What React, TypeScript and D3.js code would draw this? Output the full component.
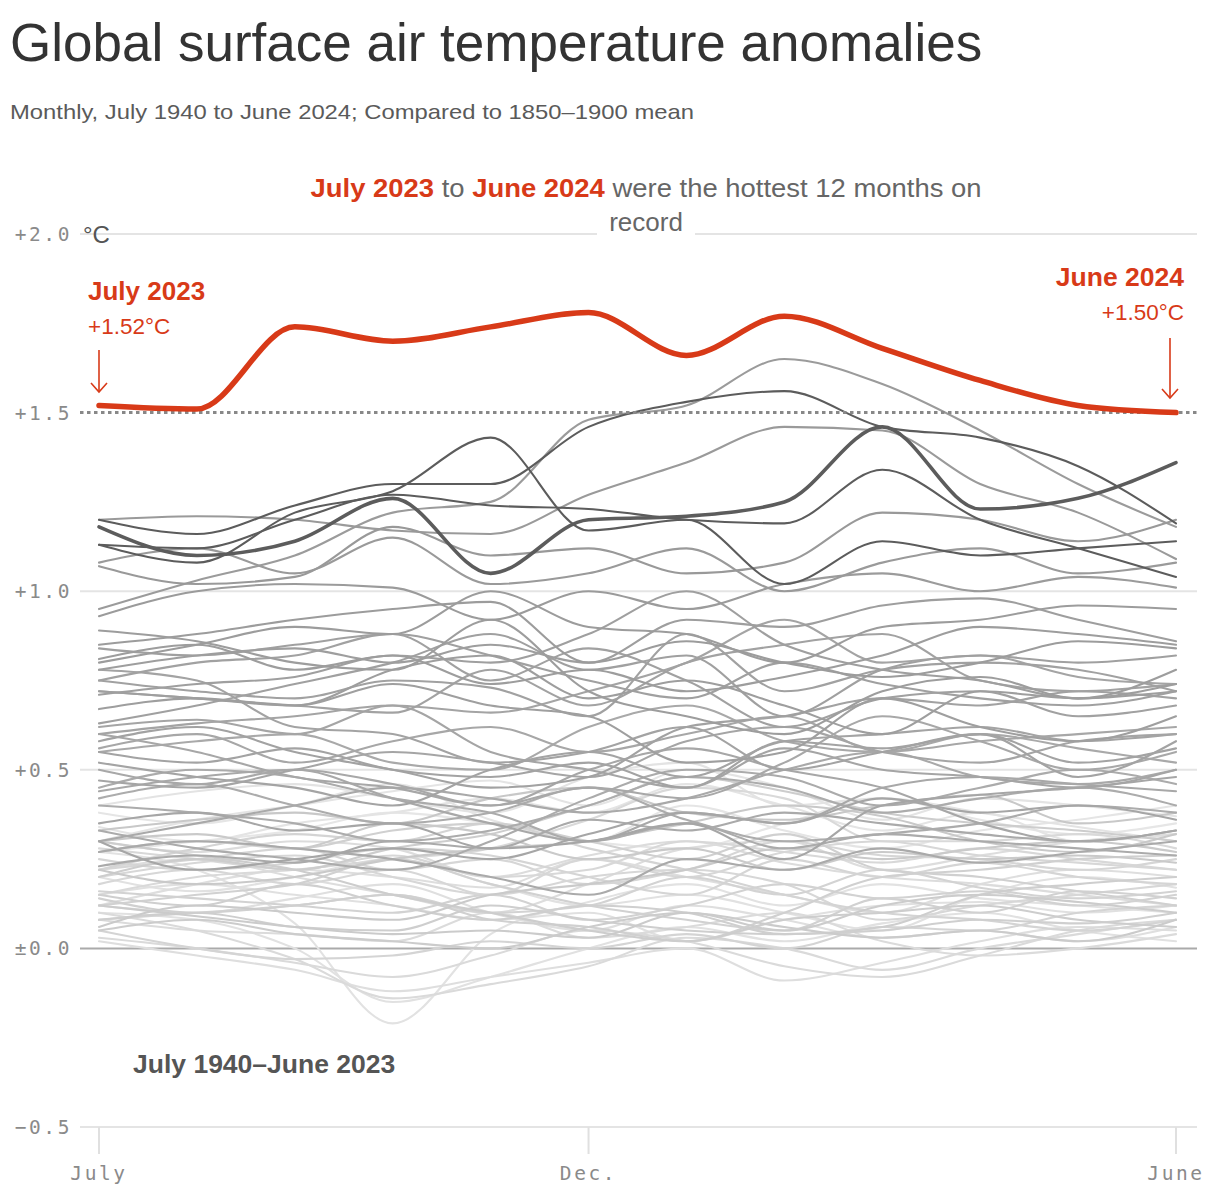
import React from "react";
import * as d3 from "d3";

// Month labels (July → June)
const months = ["Jul", "Aug", "Sep", "Oct", "Nov", "Dec", "Jan", "Feb", "Mar", "Apr", "May", "Jun"];
const xTicks = [
  { i: 0, label: "July" },
  { i: 5, label: "Dec." },
  { i: 11, label: "June" },
];
const yTicks = [
  { v: 2.0, label: "+2.0" },
  { v: 1.5, label: "+1.5" },
  { v: 1.0, label: "+1.0" },
  { v: 0.5, label: "+0.5" },
  { v: 0.0, label: "±0.0" },
  { v: -0.5, label: "−0.5" },
];

// Monthly anomalies (°C vs 1850–1900), each row = July..June season, by starting year
const seasons1940s = [
  [0.27, 0.30, 0.33, 0.38, 0.35, 0.30, 0.28, 0.35, 0.42, 0.36, 0.32, 0.35],
  [0.38, 0.35, 0.40, 0.46, 0.36, 0.30, 0.40, 0.33, 0.28, 0.33, 0.36, 0.40],
  [0.34, 0.30, 0.35, 0.38, 0.42, 0.38, 0.46, 0.40, 0.33, 0.38, 0.30, 0.32],
  [0.30, 0.36, 0.40, 0.44, 0.47, 0.40, 0.50, 0.45, 0.36, 0.42, 0.40, 0.37],
  [0.40, 0.44, 0.46, 0.42, 0.38, 0.48, 0.52, 0.40, 0.42, 0.38, 0.34, 0.30],
  [0.27, 0.22, 0.07, -0.21, 0.04, 0.13, 0.18, 0.12, 0.18, 0.14, 0.12, 0.10],
  [0.10, 0.08, 0.0, -0.15, -0.08, 0.0, 0.06, 0.02, 0.07, 0.10, 0.05, 0.02],
  [0.20, 0.16, 0.20, 0.25, 0.18, 0.12, 0.15, 0.10, 0.05, 0.15, 0.20, 0.17],
  [0.15, 0.18, 0.15, 0.12, 0.08, 0.10, 0.02, 0.08, 0.12, 0.13, 0.10, 0.12],
  [0.12, 0.10, 0.14, 0.18, 0.10, 0.05, 0.12, 0.08, 0.03, 0.05, 0.02, 0.06],
];
const seasons1950s = [
  [0.02, -0.02, -0.06, -0.12, -0.08, -0.04, 0.0, -0.09, -0.04, 0.02, 0.06, 0.05],
  [0.12, 0.18, 0.22, 0.20, 0.17, 0.25, 0.20, 0.15, 0.10, 0.18, 0.22, 0.20],
  [0.22, 0.25, 0.20, 0.15, 0.10, 0.18, 0.28, 0.30, 0.22, 0.26, 0.30, 0.32],
  [0.30, 0.27, 0.30, 0.28, 0.20, 0.26, 0.30, 0.24, 0.20, 0.18, 0.15, 0.12],
  [0.08, 0.05, 0.04, 0.02, 0.10, 0.03, 0.06, 0.10, 0.02, -0.02, 0.0, 0.04],
  [0.10, 0.05, -0.03, -0.14, -0.10, -0.05, 0.03, 0.0, -0.06, 0.0, 0.04, 0.08],
  [0.03, 0.0, -0.04, -0.08, -0.02, 0.05, 0.02, -0.05, -0.08, -0.02, 0.05, 0.08],
  [0.15, 0.20, 0.22, 0.25, 0.28, 0.36, 0.45, 0.42, 0.30, 0.30, 0.32, 0.28],
  [0.28, 0.25, 0.22, 0.26, 0.20, 0.22, 0.30, 0.27, 0.24, 0.28, 0.25, 0.22],
  [0.20, 0.24, 0.26, 0.20, 0.15, 0.20, 0.22, 0.18, 0.08, 0.12, 0.15, 0.18],
];
const seasons1960s = [
  [0.18, 0.22, 0.18, 0.22, 0.15, 0.25, 0.20, 0.27, 0.30, 0.26, 0.24, 0.22],
  [0.22, 0.25, 0.28, 0.22, 0.25, 0.18, 0.22, 0.30, 0.26, 0.25, 0.22, 0.25],
  [0.25, 0.22, 0.24, 0.28, 0.26, 0.20, 0.15, 0.25, 0.20, 0.24, 0.20, 0.18],
  [0.22, 0.28, 0.32, 0.30, 0.35, 0.28, 0.22, 0.15, 0.10, 0.08, 0.05, 0.08],
  [0.05, 0.0, -0.03, -0.02, 0.02, 0.0, 0.04, 0.0, 0.06, 0.05, 0.10, 0.12],
  [0.08, 0.10, 0.12, 0.15, 0.10, 0.12, 0.20, 0.15, 0.22, 0.17, 0.14, 0.16],
  [0.16, 0.14, 0.12, 0.10, 0.15, 0.08, 0.12, 0.18, 0.14, 0.16, 0.12, 0.15],
  [0.12, 0.15, 0.18, 0.25, 0.18, 0.12, 0.08, 0.05, 0.14, 0.10, 0.16, 0.14],
  [0.14, 0.10, 0.12, 0.15, 0.08, 0.06, 0.02, 0.10, 0.20, 0.22, 0.25, 0.26],
  [0.27, 0.30, 0.28, 0.33, 0.35, 0.30, 0.25, 0.32, 0.22, 0.20, 0.16, 0.12],
];
const seasons1970s = [
  [0.15, 0.12, 0.18, 0.12, 0.08, 0.12, 0.10, 0.04, 0.05, 0.08, 0.07, 0.10],
  [0.08, 0.10, 0.06, 0.05, 0.12, 0.08, 0.05, 0.04, 0.06, 0.15, 0.18, 0.20],
  [0.20, 0.25, 0.22, 0.28, 0.32, 0.40, 0.48, 0.44, 0.38, 0.35, 0.33, 0.30],
  [0.30, 0.26, 0.22, 0.15, 0.10, 0.05, 0.02, 0.08, 0.10, 0.12, 0.08, 0.06],
  [0.05, 0.08, 0.04, 0.02, 0.0, 0.06, 0.10, 0.05, 0.12, 0.15, 0.13, 0.10],
  [0.12, 0.09, 0.06, 0.04, 0.05, 0.03, 0.10, 0.06, 0.03, 0.05, 0.02, 0.08],
  [0.06, 0.12, 0.10, 0.08, 0.15, 0.18, 0.22, 0.28, 0.25, 0.28, 0.30, 0.27],
  [0.30, 0.32, 0.28, 0.35, 0.32, 0.25, 0.28, 0.22, 0.27, 0.25, 0.26, 0.24],
  [0.22, 0.18, 0.20, 0.25, 0.28, 0.30, 0.35, 0.40, 0.37, 0.30, 0.27, 0.32],
  [0.33, 0.36, 0.38, 0.35, 0.42, 0.45, 0.38, 0.36, 0.40, 0.43, 0.35, 0.38],
];
const seasons1980s = [
  [0.40, 0.38, 0.35, 0.30, 0.33, 0.40, 0.48, 0.45, 0.38, 0.42, 0.45, 0.40],
  [0.42, 0.46, 0.40, 0.35, 0.38, 0.45, 0.36, 0.30, 0.32, 0.35, 0.40, 0.38],
  [0.33, 0.28, 0.25, 0.22, 0.30, 0.42, 0.50, 0.48, 0.40, 0.45, 0.50, 0.46],
  [0.45, 0.50, 0.48, 0.42, 0.38, 0.30, 0.35, 0.28, 0.32, 0.30, 0.28, 0.26],
  [0.27, 0.30, 0.28, 0.25, 0.20, 0.15, 0.25, 0.22, 0.28, 0.24, 0.27, 0.30],
  [0.23, 0.26, 0.24, 0.30, 0.28, 0.36, 0.33, 0.38, 0.35, 0.32, 0.30, 0.33],
  [0.30, 0.35, 0.40, 0.45, 0.42, 0.38, 0.42, 0.50, 0.55, 0.48, 0.46, 0.50],
  [0.55, 0.58, 0.60, 0.52, 0.50, 0.62, 0.68, 0.58, 0.55, 0.60, 0.56, 0.52],
  [0.50, 0.46, 0.50, 0.42, 0.35, 0.30, 0.38, 0.35, 0.45, 0.48, 0.46, 0.44],
  [0.44, 0.48, 0.50, 0.46, 0.40, 0.45, 0.42, 0.52, 0.65, 0.58, 0.50, 0.55],
];
const seasons1990s = [
  [0.56, 0.60, 0.52, 0.58, 0.62, 0.55, 0.60, 0.65, 0.55, 0.58, 0.60, 0.62],
  [0.60, 0.55, 0.48, 0.45, 0.40, 0.50, 0.56, 0.50, 0.45, 0.35, 0.30, 0.33],
  [0.30, 0.22, 0.25, 0.28, 0.25, 0.32, 0.38, 0.35, 0.42, 0.38, 0.40, 0.36],
  [0.35, 0.38, 0.33, 0.35, 0.28, 0.30, 0.35, 0.25, 0.40, 0.43, 0.45, 0.48],
  [0.47, 0.45, 0.50, 0.55, 0.52, 0.48, 0.58, 0.62, 0.55, 0.52, 0.58, 0.60],
  [0.62, 0.64, 0.60, 0.68, 0.55, 0.50, 0.45, 0.56, 0.50, 0.48, 0.45, 0.50],
  [0.52, 0.48, 0.45, 0.40, 0.50, 0.55, 0.48, 0.58, 0.60, 0.62, 0.58, 0.60],
  [0.60, 0.63, 0.65, 0.68, 0.66, 0.72, 0.80, 0.92, 0.80, 0.82, 0.76, 0.74],
  [0.78, 0.75, 0.62, 0.60, 0.52, 0.55, 0.62, 0.50, 0.55, 0.60, 0.52, 0.56],
  [0.55, 0.52, 0.56, 0.50, 0.48, 0.52, 0.45, 0.58, 0.56, 0.60, 0.48, 0.58],
];
const seasons2000s = [
  [0.58, 0.62, 0.55, 0.50, 0.45, 0.48, 0.62, 0.65, 0.70, 0.68, 0.72, 0.70],
  [0.72, 0.70, 0.68, 0.66, 0.78, 0.68, 0.80, 0.85, 0.88, 0.75, 0.72, 0.74],
  [0.75, 0.72, 0.70, 0.75, 0.73, 0.65, 0.88, 0.72, 0.78, 0.80, 0.78, 0.72],
  [0.75, 0.80, 0.82, 0.88, 0.75, 0.84, 0.75, 0.62, 0.70, 0.72, 0.65, 0.68],
  [0.63, 0.68, 0.74, 0.80, 0.88, 0.78, 0.82, 0.65, 0.78, 0.82, 0.80, 0.82],
  [0.84, 0.82, 0.85, 0.88, 0.82, 0.75, 0.70, 0.80, 0.74, 0.70, 0.68, 0.72],
  [0.71, 0.74, 0.76, 0.82, 0.80, 0.88, 1.00, 0.85, 0.78, 0.75, 0.70, 0.72],
  [0.72, 0.70, 0.68, 0.74, 0.68, 0.65, 0.52, 0.55, 0.70, 0.62, 0.58, 0.65],
  [0.67, 0.70, 0.68, 0.78, 0.82, 0.70, 0.75, 0.68, 0.60, 0.72, 0.70, 0.74],
  [0.78, 0.82, 0.84, 0.80, 0.85, 0.80, 0.92, 0.90, 0.96, 0.98, 0.92, 0.86],
];
const seasons2010s = [
  [0.89, 0.86, 0.80, 0.78, 0.92, 0.72, 0.65, 0.60, 0.72, 0.76, 0.70, 0.78],
  [0.81, 0.85, 0.78, 0.82, 0.74, 0.78, 0.72, 0.76, 0.82, 0.90, 0.88, 0.85],
  [0.85, 0.88, 0.92, 0.95, 0.97, 0.80, 0.86, 0.80, 0.76, 0.80, 0.86, 0.84],
  [0.80, 0.85, 0.90, 0.88, 1.00, 0.90, 0.88, 0.80, 0.90, 0.92, 0.96, 0.95],
  [0.93, 1.00, 1.02, 1.01, 0.92, 1.00, 0.95, 1.02, 1.05, 1.00, 1.04, 1.01],
  [0.95, 1.03, 1.10, 1.22, 1.25, 1.48, 1.52, 1.65, 1.58, 1.45, 1.30, 1.18],
  [1.20, 1.21, 1.20, 1.17, 1.16, 1.27, 1.36, 1.46, 1.45, 1.30, 1.22, 1.09],
  [1.08, 1.12, 1.05, 1.15, 1.02, 1.05, 1.12, 1.00, 1.08, 1.12, 1.05, 1.08],
  [1.07, 1.02, 1.04, 1.18, 1.10, 1.12, 1.05, 1.08, 1.22, 1.20, 1.14, 1.20],
  [1.20, 1.16, 1.24, 1.30, 1.30, 1.46, 1.53, 1.56, 1.46, 1.43, 1.35, 1.19],
];
const seasons2020s = [
  [1.13, 1.08, 1.22, 1.28, 1.43, 1.17, 1.20, 1.02, 1.14, 1.10, 1.12, 1.14],
  [1.13, 1.12, 1.20, 1.27, 1.24, 1.23, 1.20, 1.19, 1.34, 1.20, 1.12, 1.04],
  [1.18, 1.10, 1.14, 1.26, 1.05, 1.20, 1.21, 1.25, 1.46, 1.23, 1.26, 1.36],
];
const season2023 = [1.52, 1.51, 1.74, 1.70, 1.74, 1.78, 1.66, 1.77, 1.68, 1.59, 1.52, 1.50];

const decades = [
  { start: 1940, rows: seasons1940s },
  { start: 1950, rows: seasons1950s },
  { start: 1960, rows: seasons1960s },
  { start: 1970, rows: seasons1970s },
  { start: 1980, rows: seasons1980s },
  { start: 1990, rows: seasons1990s },
  { start: 2000, rows: seasons2000s },
  { start: 2010, rows: seasons2010s },
  { start: 2020, rows: seasons2020s },
];

const RED = "#d83a18";
const SANS = "'Liberation Sans', Arial, sans-serif";
const MONO = "'DejaVu Sans Mono', 'Liberation Mono', monospace";

export default function App() {
  const W = 1220;
  const H = 1198;
  const x = d3.scaleLinear().domain([0, months.length - 1]).range([99, 1176]);
  const y = d3.scaleLinear().domain([-0.5, 2.0]).range([1127, 234]);
  const line = d3
    .line<number>()
    .x((_, i) => x(i))
    .y((d) => y(d))
    .curve(d3.curveMonotoneX);

  const color = d3
    .scaleLinear<string>()
    .domain([1940, 1979, 1980, 2018, 2019])
    .range(["#e6e6e6", "#c8c8c8", "#acacac", "#999999", "#5c5c5c"])
    .clamp(true);

  const series = decades.flatMap((d) => d.rows.map((vals, k) => ({ year: d.start + k, vals })));
  const gridX0 = 80;
  const gridX1 = 1197;

  return (
    <svg
      width={W}
      height={H}
      viewBox={`0 0 ${W} ${H}`}
      style={{ position: "absolute", left: 0, top: 0, background: "#fff" }}
    >
      <rect x={0} y={0} width={W} height={H} fill="#fff" />
      {/* Title */}
      <text x={10} y={61} fontFamily={SANS} fontSize={53} fill="#333">
        Global surface air temperature anomalies
      </text>
      <text x={10} y={119} fontFamily={SANS} fontSize={21} fill="#5a5a5a" textLength={684} lengthAdjust="spacingAndGlyphs">
        Monthly, July 1940 to June 2024; Compared to 1850–1900 mean
      </text>

      {/* Grid */}
      {yTicks.map((t) =>
        t.v === 1.5 ? null : (
          <line
            key={t.label}
            x1={gridX0}
            x2={gridX1}
            y1={y(t.v)}
            y2={y(t.v)}
            stroke={t.v === 0 ? "#aaaaaa" : "#e4e4e4"}
            strokeWidth={2}
          />
        )
      )}
      {xTicks.map((t) => (
        <line key={t.label} x1={x(t.i)} x2={x(t.i)} y1={y(-0.5)} y2={y(-0.5) + 27} stroke="#e0e0e0" strokeWidth={2} />
      ))}

      {/* Y labels */}
      {yTicks.map((t) => (
        <text
          key={t.label}
          x={72}
          y={y(t.v)}
          dy="0.36em"
          textAnchor="end"
          fontFamily={MONO}
          fontSize={19.5}
          letterSpacing={2.6}
          fill="#8a8a8a"
        >
          {t.label}
        </text>
      ))}
      <text x={83} y={y(2.0)} dy="0.37em" fontFamily={SANS} fontSize={24} fill="#555">
        °C
      </text>

      {/* X labels */}
      {xTicks.map((t) => (
        <text
          key={t.label}
          x={x(t.i)}
          y={1180}
          textAnchor="middle"
          fontFamily={MONO}
          fontSize={19.5}
          letterSpacing={2.6}
          fill="#8a8a8a"
        >
          {t.label}
        </text>
      ))}

      {/* Past seasons */}
      <g fill="none" strokeLinejoin="round" strokeLinecap="round">
        {series.map((s) => (
          <path
            key={s.year}
            d={line(s.vals) || ""}
            stroke={color(s.year)}
            strokeWidth={s.year === 2022 ? 3.6 : 2.1}
          />
        ))}
      </g>

      {/* 1.5 dotted */}
      <line x1={gridX0} x2={gridX1} y1={y(1.5)} y2={y(1.5)} stroke="#888" strokeWidth={3} strokeDasharray="3.5 3.5" />

      {/* 2023-24 */}
      <path d={line(season2023) || ""} fill="none" stroke={RED} strokeWidth={5.5} strokeLinecap="round" />

      {/* Annotation headline */}
      <rect x={597} y={207} width={98} height={34} fill="#fff" />
      <text
        x={646}
        y={197}
        textAnchor="middle"
        fontFamily={SANS}
        fontSize={26}
        fill="#666"
        textLength={671}
        lengthAdjust="spacingAndGlyphs"
      >
        <tspan fill={RED} fontWeight="bold">July 2023</tspan>
        <tspan> to </tspan>
        <tspan fill={RED} fontWeight="bold">June 2024</tspan>
        <tspan> were the hottest 12 months on</tspan>
      </text>
      <text x={646} y={231} textAnchor="middle" fontFamily={SANS} fontSize={26} fill="#666">
        record
      </text>

      {/* July 2023 label */}
      <text x={88} y={300} fontFamily={SANS} fontSize={26} fontWeight="bold" fill={RED}>
        July 2023
      </text>
      <text x={88} y={334} fontFamily={SANS} fontSize={22.5} fill={RED}>
        +1.52°C
      </text>
      <g stroke={RED} strokeWidth={1.6} fill="none">
        <line x1={99} x2={99} y1={350} y2={392} />
        <polyline points="91,383 99,392 107,383" />
      </g>

      {/* June 2024 label */}
      <text x={1184} y={286} textAnchor="end" fontFamily={SANS} fontSize={26.5} fontWeight="bold" fill={RED}>
        June 2024
      </text>
      <text x={1184} y={320} textAnchor="end" fontFamily={SANS} fontSize={22.5} fill={RED}>
        +1.50°C
      </text>
      <g stroke={RED} strokeWidth={1.6} fill="none">
        <line x1={1170} x2={1170} y1={338} y2={398} />
        <polyline points="1162,389 1170,398 1178,389" />
      </g>

      {/* Past label */}
      <text x={133} y={1073} fontFamily={SANS} fontSize={26.5} fontWeight="bold" fill="#555">
        July 1940–June 2023
      </text>
    </svg>
  );
}
